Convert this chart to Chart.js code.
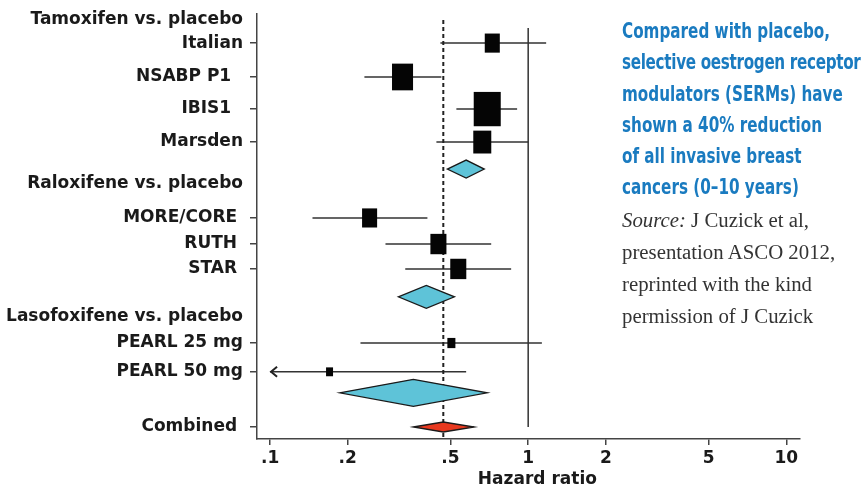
<!DOCTYPE html>
<html>
<head>
<meta charset="utf-8">
<title>SERMs vs placebo - forest plot</title>
<script src="https://cdn.jsdelivr.net/npm/chart.js@4.4.1/dist/chart.umd.min.js"></script>
<style>
  html, body { margin: 0; padding: 0; background: #fff; }
  #wrap { position: relative; width: 865px; height: 491px; overflow: hidden; }
  #forest { position: absolute; left: 0; top: 0; }
  #note { position: absolute; left: 622px; top: 16px; width: 243px; }
  #note .lead {
    font-family: "Liberation Sans Narrow", "DejaVu Sans Condensed", sans-serif;
    font-stretch: condensed;
    font-weight: bold;
    font-size: 21px;
    line-height: 31.3px;
    color: #1a7bc0;
    white-space: nowrap;
    transform: scaleX(0.805);
    transform-origin: left top;
  }
  #note .lead .tight { letter-spacing: -0.4px; }
  #note .src {
    font-family: "Liberation Serif", serif;
    font-size: 20.8px;
    line-height: 32px;
    color: #333;
    white-space: nowrap;
  }
</style>
</head>
<body>
<div id="wrap">
  <canvas id="forest" width="865" height="491"></canvas>
  <div id="note">
    <div class="lead">Compared with placebo,<br><span class="tight">selective oestrogen receptor</span><br>modulators (SERMs) have<br>shown a 40% reduction<br>of all invasive breast<br>cancers (0–10 years)</div>
    <div class="src"><i>Source:</i> J Cuzick et al,<br>presentation ASCO 2012,<br>reprinted with the kind<br>permission of J Cuzick</div>
  </div>
</div>

<script>
// individual trials (row = vertical slot on the y axis, top = 0)
const studyLabels = ['Italian', 'NSABP P1  ', 'IBIS1  ', 'Marsden', 'MORE/CORE ', 'RUTH ', 'STAR ', 'PEARL 25 mg', 'PEARL 50 mg'];
const studyRows   = [0.97, 2.1, 3.17, 4.27, 6.8, 7.67, 8.5, 10.97, 11.93];
const studyHR     = [0.726, 0.326, 0.694, 0.664, 0.243, 0.449, 0.536, 0.504, 0.170];
const studyLow    = [0.457, 0.232, 0.527, 0.441, 0.146, 0.280, 0.334, 0.224, 0.05];
const studyHigh   = [1.174, 0.461, 0.906, 1.0, 0.407, 0.719, 0.859, 1.13, 0.575];
const studyWeight = [8.8, 17.2, 28.4, 12.6, 8.8, 10.0, 10.0, 2.5, 1.9];

// group headings
const groupHeadings = ['Tamoxifen vs. placebo', 'Raloxifene vs. placebo', 'Lasofoxifene vs. placebo'];
const headingRows   = [0.2, 5.67, 10.1];

// pooled estimates (three groups + combined)
const pooledLabels = ['', '', '', 'Combined '];
const pooledRows   = [5.17, 9.43, 12.63, 13.77];
const pooledHR     = [0.575, 0.403, 0.359, 0.469];
const pooledLow    = [0.486, 0.314, 0.186, 0.359];
const pooledHigh   = [0.676, 0.518, 0.694, 0.618];

// axes
const xTicks      = [0.1, 0.2, 0.5, 1, 2, 5, 10];
const xTickLabels = ['.1', '.2', '.5', '1', '2', '5', '10'];
const xMin = 0.089, xMax = 11.3;
const yMax = 14.17;
const ciFloor = 0.1;   // CIs below this are cut off with an arrow

const axisColor = '#444';
const textColor = '#1a1a1a';
const labelFont = { family: 'DejaVu Sans', weight: 'bold', size: 17 };

// y ticks: headings, trials and the combined row
const yItems = [
  ...groupHeadings.map((t, i) => ({ value: headingRows[i], label: t, heading: true })),
  ...studyLabels.map((t, i) => ({ value: studyRows[i], label: t, heading: false })),
  ...pooledLabels.map((t, i) => ({ value: pooledRows[i], label: t, heading: false })).filter(d => d.label)
].sort((a, b) => a.value - b.value);

// CI segments as one line dataset, gaps between trials
const ciData = [];
studyRows.forEach((row, i) => {
  ciData.push({ x: Math.max(studyLow[i], ciFloor), y: row });
  ciData.push({ x: studyHigh[i], y: row });
  ciData.push({ x: studyHigh[i], y: null });
});

const forestPlugin = {
  id: 'forest',
  afterDatasetsDraw(chart, args, opts) {
    const { ctx, scales: { x, y } } = chart;
    ctx.save();

    // arrows for truncated intervals
    ctx.strokeStyle = '#222';
    ctx.lineWidth = 2;
    studyRows.forEach((row, i) => {
      if (studyLow[i] >= ciFloor) return;
      const px = x.getPixelForValue(ciFloor), py = y.getPixelForValue(row);
      ctx.beginPath();
      ctx.moveTo(px + 7, py - 5);
      ctx.lineTo(px + 1, py);
      ctx.lineTo(px + 7, py + 5);
      ctx.stroke();
    });

    // weighted boxes
    ctx.fillStyle = '#050505';
    studyRows.forEach((row, i) => {
      const w = opts.boxScale * Math.sqrt(studyWeight[i]);
      const h = w * opts.boxAspect;
      const px = x.getPixelForValue(studyHR[i]), py = y.getPixelForValue(row);
      ctx.fillRect(px - w / 2, py - h / 2, w, h);
    });

    // pooled diamonds
    pooledRows.forEach((row, i) => {
      const py = y.getPixelForValue(row);
      const lo = x.getPixelForValue(pooledLow[i]);
      const mid = x.getPixelForValue(pooledHR[i]);
      const hi = x.getPixelForValue(pooledHigh[i]);
      const hh = opts.diamondHalf[i];
      ctx.beginPath();
      ctx.moveTo(lo, py);
      ctx.lineTo(mid, py - hh);
      ctx.lineTo(hi, py);
      ctx.lineTo(mid, py + hh);
      ctx.closePath();
      ctx.fillStyle = opts.diamondColors[i];
      ctx.fill();
      ctx.lineWidth = 1.3;
      ctx.strokeStyle = '#1a1a1a';
      ctx.stroke();
    });

    ctx.restore();
  }
};

new Chart(document.getElementById('forest').getContext('2d'), {
  type: 'scatter',
  data: {
    datasets: [
      {
        label: 'no effect',
        data: [{ x: 1, y: studyRows[0] - 0.5 }, { x: 1, y: pooledRows[3] }],
        showLine: true,
        borderColor: '#333',
        borderWidth: 1.5,
        pointRadius: 0
      },
      {
        label: 'combined estimate',
        data: [{ x: pooledHR[3], y: headingRows[0] }, { x: pooledHR[3], y: yMax }],
        showLine: true,
        borderColor: '#222',
        borderWidth: 2,
        borderDash: [4, 3],
        pointRadius: 0
      },
      {
        label: '95% CI',
        data: ciData,
        showLine: true,
        spanGaps: false,
        borderColor: '#333',
        borderWidth: 1.5,
        pointRadius: 0
      }
    ]
  },
  options: {
    responsive: false,
    animation: false,
    layout: { padding: { top: 14, right: 65, bottom: 0, left: 0 } },
    plugins: {
      legend: { display: false },
      tooltip: { enabled: false },
      forest: {
        boxScale: 5.07,
        boxAspect: 1.27,
        diamondHalf: [9, 11.5, 13.5, 5],
        diamondColors: ['#5ec3d8', '#5ec3d8', '#5ec3d8', '#e8391f']
      }
    },
    scales: {
      x: {
        type: 'logarithmic',
        min: xMin,
        max: xMax,
        afterBuildTicks: scale => { scale.ticks = xTicks.map(v => ({ value: v })); },
        afterFit: scale => { scale.height = 52; scale.paddingLeft = 0; scale.paddingRight = 0; },
        ticks: {
          autoSkip: false,
          maxRotation: 0,
          padding: 3,
          color: textColor,
          font: labelFont,
          callback: (v, i) => xTickLabels[i]
        },
        grid: { drawOnChartArea: false, drawTicks: true, tickLength: 6, color: axisColor, lineWidth: 1.5 },
        border: { display: true, color: axisColor, width: 1.5 },
        title: { display: true, text: '   Hazard ratio', color: textColor, font: labelFont, padding: { top: 0, bottom: 1 } }
      },
      y: {
        type: 'linear',
        reverse: true,
        min: 0,
        max: yMax,
        afterBuildTicks: scale => { scale.ticks = yItems.map(d => ({ value: d.value })); },
        afterFit: scale => { scale.width = 257; scale.paddingTop = 0; scale.paddingBottom = 0; },
        ticks: {
          autoSkip: false,
          padding: 7,
          color: textColor,
          font: labelFont,
          callback: (v, i) => yItems[i].label
        },
        grid: {
          drawOnChartArea: false,
          drawTicks: true,
          tickLength: 7,
          lineWidth: 1.5,
          tickColor: c => (c.tick && yItems[c.index] && yItems[c.index].heading) ? 'rgba(0,0,0,0)' : axisColor
        },
        border: { display: true, color: axisColor, width: 1.5 }
      }
    }
  },
  plugins: [forestPlugin]
});
</script>
</body>
</html>
